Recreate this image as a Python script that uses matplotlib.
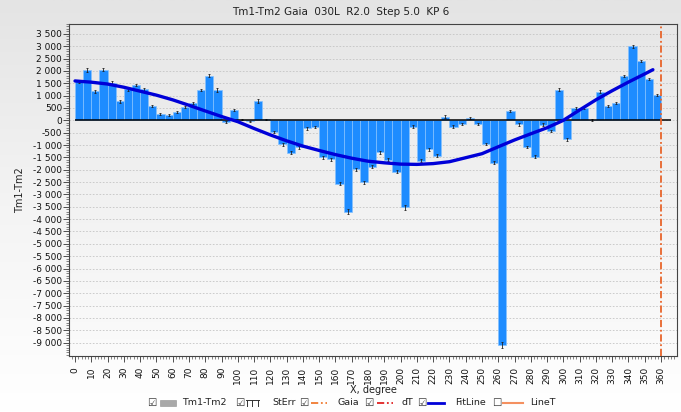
import numpy as np
import matplotlib
matplotlib.use("Agg")
import matplotlib.pyplot as plt
from matplotlib.colors import LinearSegmentedColormap
from matplotlib.lines import Line2D
from matplotlib.patches import Rectangle
from matplotlib.ticker import FixedLocator, FuncFormatter, MultipleLocator

# bar data: Tm1-Tm2 per 5 degree step
degrees = list(range(0, 360, 5))
values = [
    1590, 2040, 1180, 2040, 1530, 770, 1257, 1432, 1257, 568,
    260, 216, 320, 550, 716, 1230, 1810, 1216, -50, 410,
    30, -40, 780, 40, -480, -960, -1311, -1085, -324, -265,
    -1500, -1581, -2560, -3700, -1980, -2500, -1878, -1297, -1595, -2081,
    -3527, -257, -1635, -1176, -1432, 150, -257, -149, 81, -162,
    -960, -1716, -9100, 378, -162, -1081, -1473, -170, -432, 1243,
    -770, 513, 513, 20, 1149, 581, 689, 1797, 3000, 2405,
    1676, 1027,
]
std_err = [
    60, 70, 60, 60, 50, 50, 50, 50, 60, 40,
    40, 40, 40, 40, 40, 50, 70, 80, 40, 40,
    30, 30, 90, 30, 40, 60, 70, 60, 50, 40,
    50, 50, 60, 110, 60, 60, 50, 50, 60, 60,
    90, 60, 60, 60, 50, 60, 50, 40, 40, 40,
    50, 70, 120, 50, 50, 50, 60, 50, 50, 60,
    60, 40, 40, 30, 60, 40, 40, 50, 60, 50,
    50, 50,
]

# fit line
fit_x = [0, 10, 20, 30, 40, 50, 60, 70, 80, 90, 100, 110, 120, 130, 140, 150,
         160, 170, 180, 190, 200, 210, 220, 230, 240, 250, 260, 270, 280, 290,
         300, 310, 320, 330, 340, 350, 355]
fit_y = [1595, 1545, 1470, 1340, 1180, 1020, 830, 610, 380, 155, -54, -330,
         -590, -830, -1044, -1221, -1388, -1534, -1655, -1720, -1773, -1784,
         -1752, -1676, -1514, -1351, -1071, -795, -545, -300, 0, 420, 830,
         1200, 1550, 1880, 2050]

y_ticks = list(range(-9000, 3501, 500))
x_ticks = list(range(0, 361, 10))
gaia_x = 360
title = "Tm1-Tm2 Gaia  030L  R2.0  Step 5.0  KP 6"

fig = plt.figure(figsize=(6.81, 4.12), dpi=100)

# figure background gradient
bg = fig.add_axes([0, 0, 1, 1], zorder=-10)
bg_cmap = LinearSegmentedColormap.from_list("bg", ["#ffffff", "#f4f4f4", "#e4e4e4"])
bg.imshow(np.linspace(1, 0, 256)[:, None], aspect="auto", cmap=bg_cmap,
          extent=[0, 1, 0, 1], vmin=0, vmax=1)
bg.axis("off")

ax_rect = [0.1013, 0.1367, 0.8928, 0.805]
pbg = fig.add_axes(ax_rect, zorder=-5)
p_cmap = LinearSegmentedColormap.from_list("pbg", ["#fbfbfb", "#e7e7e7"])
pbg.imshow(np.linspace(1, 0, 256)[:, None], aspect="auto", cmap=p_cmap,
           extent=[0, 1, 0, 1], vmin=0, vmax=1)
pbg.axis("off")

ax = fig.add_axes(ax_rect)
ax.set_facecolor("none")

ax.bar(degrees, values, width=5, align="edge", color="#1E8CFF",
       edgecolor="#86C2FF", linewidth=0.5, zorder=3)
centers = [d + 2.5 for d in degrees]
ax.errorbar(centers, values, yerr=std_err, fmt="none", ecolor="#222222",
            elinewidth=0.6, capsize=1.0, capthick=0.6, zorder=4)
ax.hlines(0, 0, 366, color="black", linewidth=1.1, zorder=5)
ax.plot(fit_x, fit_y, color="#0000D8", linewidth=2.4, zorder=6,
        solid_capstyle="round", solid_joinstyle="round")
ax.axvline(gaia_x, color="#E8652B", linestyle=(0, (4, 1.5, 1, 1.5)),
           linewidth=1.3, zorder=6)

ax.set_xlim(-3.7, 369.8)
ax.set_ylim(-9530, 3900)
ax.xaxis.set_major_locator(FixedLocator(x_ticks))
ax.xaxis.set_minor_locator(MultipleLocator(2))
ax.yaxis.set_major_locator(FixedLocator(y_ticks))
ax.yaxis.set_minor_locator(MultipleLocator(100))
ax.yaxis.set_major_formatter(FuncFormatter(lambda v, p: f"{v:,.0f}".replace(",", " ")))
ax.tick_params(axis="x", which="major", labelsize=6.5, labelrotation=90,
               length=4, width=0.6, pad=4, colors="#333333")
ax.tick_params(axis="y", which="major", labelsize=6.5, length=4, width=0.6,
               pad=1, colors="#333333")
ax.tick_params(which="minor", length=2, width=0.5, colors="#555555")
for lbl in ax.get_xticklabels() + ax.get_yticklabels():
    lbl.set_color("#111111")

ax.yaxis.grid(True, which="major", linestyle=(0, (2, 2)), color="#c4c4c4",
              linewidth=0.6, zorder=1)
ax.set_axisbelow(True)
for spine in ax.spines.values():
    spine.set_color("#444444")
    spine.set_linewidth(0.8)

ax.set_xlabel("X, degree", fontsize=7, labelpad=1, color="#222222")
ax.set_ylabel("Tm1-Tm2", fontsize=7, labelpad=6, color="#222222")
fig.text(0.5, 0.971, title, ha="center", va="center", fontsize=7.5,
         color="#222222")

# legend row drawn by hand
ly = 1 - 402.5 / 412
W, H = 681.0, 412.0


def fx(px):
    return px / W


def box(px, checked):
    fig.text(fx(px), ly, "\u2611" if checked else "\u2610", ha="center",
             va="center", fontsize=7.5, color="#333333")


def label(px, text):
    fig.text(fx(px), ly, text, ha="left", va="center", fontsize=6.8,
             color="#222222")


box(152, True)
fig.add_artist(Rectangle((fx(160), ly - 3 / H), 16 / W, 6 / H,
                         facecolor="#a8a8a8", edgecolor="#909090", linewidth=0.4,
                         transform=fig.transFigure))
label(182, "Tm1-Tm2")

box(240, True)
fig.add_artist(Line2D([fx(246), fx(259)], [ly + 2.5 / H] * 2, color="#333333",
                      linewidth=0.7, transform=fig.transFigure))
for xp in (247, 252, 258):
    fig.add_artist(Line2D([fx(xp)] * 2, [ly - 3 / H, ly + 2.5 / H],
                          color="#333333", linewidth=0.7,
                          transform=fig.transFigure))
label(272, "StErr")

box(304, True)
fig.add_artist(Line2D([fx(311), fx(327)], [ly] * 2, color="#F07A30",
                      linewidth=1.3, linestyle=(0, (4, 1.5, 1, 1.5)),
                      transform=fig.transFigure))
label(338, "Gaia")

box(369, True)
fig.add_artist(Line2D([fx(377), fx(393)], [ly] * 2, color="#E02222",
                      linewidth=1.3, linestyle=(0, (4, 1.5, 1, 1.5)),
                      transform=fig.transFigure))
label(401, "dT")

box(422, True)
fig.add_artist(Line2D([fx(428), fx(444)], [ly] * 2, color="#0000D8",
                      linewidth=2, transform=fig.transFigure))
label(455, "FitLine")

box(497, False)
fig.add_artist(Line2D([fx(503), fx(523)], [ly] * 2, color="#F49060",
                      linewidth=1.5, transform=fig.transFigure))
label(530, "LineT")

fig.savefig("out.png", dpi=100)
